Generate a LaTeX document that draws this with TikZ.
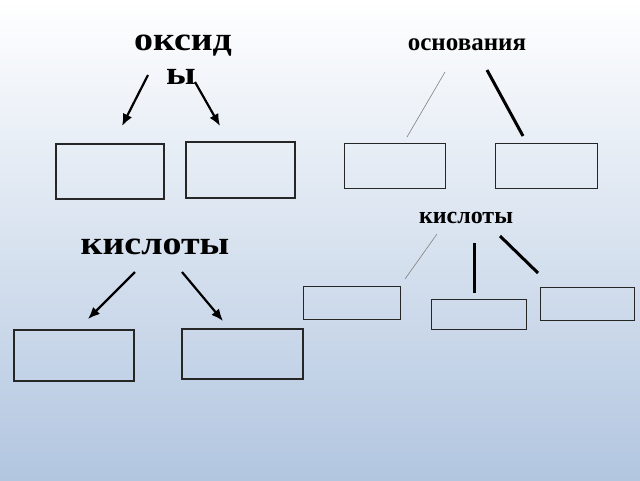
\documentclass[tikz,border=0pt]{standalone}
\usepackage{fontspec}
\setmainfont{Liberation Serif}
\usetikzlibrary{arrows.meta}
\definecolor{bgb}{HTML}{B2C6E0}
\begin{document}
\begin{tikzpicture}[x=1pt,y=-1pt,
 big/.style={font=\bfseries\fontsize{33}{33}\selectfont,xscale=1.15},
 box/.style={draw=black!85,line width=2pt,minimum width=#1,inner sep=0,anchor=north west},
 arr/.style={line width=2.2pt,-{Latex[length=12pt,width=10pt]}},
 thin/.style={draw=gray,line width=0.6pt},
 thick/.style={line width=3pt}]
\shade[top color=white,bottom color=bgb] (0,0) rectangle (640,480);
\useasboundingbox (0,0) rectangle (640,480);
\node[big] (ox) at (183,46) {оксид};
\node[big] (oy) at (181,77) {ы};
\node[big] (ks) at (155,247) {кислоты};
\node[font=\bfseries\fontsize{25}{25}\selectfont] (os) at (467,45) {основания};
\node[font=\bfseries\fontsize{24}{24}\selectfont] (ks2) at (466,218) {кислоты};
\node[box=108pt,minimum height=55pt] (b1) at (55,143) {};
\node[box=109pt,minimum height=56pt] (b2) at (185,141) {};
\node[box=101pt,minimum height=45pt,line width=1.4pt] (b3) at (344,143) {};
\node[box=102pt,minimum height=45pt,line width=1.4pt] (b4) at (495,143) {};
\node[box=97pt,minimum height=33pt,line width=1.4pt] (b5) at (303,286) {};
\node[box=95pt,minimum height=30pt,line width=1.4pt] (b6) at (431,299) {};
\node[box=94pt,minimum height=33pt,line width=1.4pt] (b7) at (540,287) {};
\node[box=120pt,minimum height=51pt] (b8) at (13,329) {};
\node[box=121pt,minimum height=50pt] (b9) at (181,328) {};
\coordinate (a1s) at (148,75); \coordinate (a1e) at (122,126);
\coordinate (a2s) at (195,82); \coordinate (a2e) at (220,126);
\coordinate (a3s) at (135,272); \coordinate (a3e) at (88,319);
\coordinate (a4s) at (182,272); \coordinate (a4e) at (223,321);
\draw[arr] (a1s) -- (a1e);
\draw[arr] (a2s) -- (a2e);
\draw[arr] (a3s) -- (a3e);
\draw[arr] (a4s) -- (a4e);
\coordinate (l1s) at (445,72); \coordinate (l1e) at (407,137);
\coordinate (l2s) at (487,70); \coordinate (l2e) at (523,136);
\coordinate (l3s) at (437,234); \coordinate (l3e) at (405,279);
\coordinate (l4s) at (474,243); \coordinate (l4e) at (474,293);
\coordinate (l5s) at (500,236); \coordinate (l5e) at (538,273);
\draw[thin] (l1s) -- (l1e);
\draw[thick] (l2s) -- (l2e);
\draw[thin] (l3s) -- (l3e);
\draw[thick] (l4s) -- (l4e);
\draw[thick] (l5s) -- (l5e);
\end{tikzpicture}
\end{document}
